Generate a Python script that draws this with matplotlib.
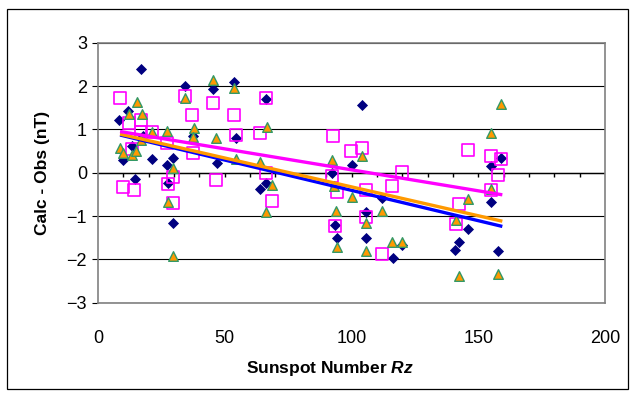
import matplotlib.pyplot as plt
from matplotlib.patches import Rectangle

# series (sunspot number, calc - obs)
dia_x = [8.4, 9.7, 12.0, 13.3, 14.6, 16.8, 17.6, 21.2, 27.1, 27.7, 29.5, 29.5, 34.3, 37.6,
         45.5, 46.8, 53.8, 54.4, 63.9, 66.1, 66.1, 92.4, 93.5, 94.2, 100.3, 104.3, 105.6,
         105.6, 112.2, 116.4, 120.0, 140.8, 142.4, 146.1, 154.9, 154.9, 157.9, 159.0]
dia_y = [1.22, 0.29, 1.43, 0.62, -0.15, 2.39, 0.85, 0.31, 0.18, -0.24, 0.35, -1.15, 2.01, 0.85,
         1.93, 0.23, 2.10, 0.79, -0.38, 1.69, -0.23, -0.01, -1.21, -1.50, 0.18, 1.56, -0.90,
         -1.50, -0.59, -1.98, -1.67, -1.78, -1.59, -1.30, 0.16, -0.67, -1.81, 0.33]

tri_x = [8.7, 9.7, 12.4, 13.5, 14.9, 15.3, 17.0, 17.5, 21.2, 27.1, 27.7, 29.5, 29.5, 34.3,
         38.0, 37.6, 45.5, 46.7, 53.8, 54.4, 63.9, 66.5, 66.1, 68.5, 92.4, 93.1, 93.8, 94.2,
         100.3, 104.3, 105.6, 105.6, 112.2, 116.1, 120.0, 141.1, 142.4, 146.1, 154.9, 154.9,
         157.9, 159.0]
tri_y = [0.56, 0.46, 1.35, 0.41, 0.50, 1.62, 0.75, 1.35, 0.93, 0.96, -0.67, 0.10, -1.92, 1.72,
         1.02, 0.82, 2.14, 0.79, 1.95, 0.31, 0.25, 1.06, -0.90, -0.28, 0.29, -0.30, -0.88, -1.71,
         -0.57, 0.39, -1.15, -1.80, -0.88, -1.59, -1.59, -1.09, -2.38, -0.61, 0.92, -0.38,
         -2.34, 1.58]

sq_x = [8.7, 9.7, 12.1, 13.3, 14.3, 16.8, 17.0, 21.2, 27.1, 27.7, 29.5, 29.5, 34.3, 37.2,
        37.6, 45.5, 46.5, 53.8, 54.4, 63.9, 66.1, 66.1, 68.8, 92.8, 92.4, 94.2, 93.5, 99.8,
        104.3, 105.6, 105.6, 111.9, 116.1, 119.8, 141.1, 142.4, 146.1, 154.9, 154.9, 157.9, 159.0]
sq_y = [1.73, -0.34, 1.14, 0.55, -0.41, 1.22, 0.95, 0.95, 0.69, -0.27, -0.09, -0.69, 1.77, 1.33,
        0.45, 1.60, -0.17, 1.33, 0.87, 0.91, 1.72, 0.00, -0.65, 0.85, -0.07, -0.44, -1.22, 0.49,
        0.56, -0.40, -1.02, -1.88, -0.31, 0.01, -1.18, -0.73, 0.52, 0.39, -0.40, -0.05, 0.31]

# trend lines as drawn in the reference (end values at first / last sunspot number)
trend_x = [8.7, 159.5]
trend_dia = [0.87, -1.24]
trend_tri = [0.89, -1.12]
trend_sq = [0.95, -0.51]

minor_x = list(range(10, 200, 10))

plt.rcParams['font.family'] = ['Liberation Sans', 'DejaVu Sans']
plt.rcParams['mathtext.fontset'] = 'custom'
plt.rcParams['mathtext.bfit'] = 'Liberation Sans:bold:italic'

fig = plt.figure(figsize=(6.35, 3.98), dpi=100)
ax = fig.add_axes([98 / 635, 1 - 302.7 / 398, 507 / 635, 260 / 398])

# outer chart border
fig.patches.append(Rectangle((7 / 635, 1 - 389 / 398), 621 / 635, 380 / 398,
                             transform=fig.transFigure, fill=False, ec='black', lw=0.9))

ax.scatter(dia_x, dia_y, marker='D', s=32, color='#000080', zorder=3, linewidths=0)
ax.scatter(sq_x, sq_y, marker='s', s=75, facecolors='none', edgecolors='#FF00FF',
           linewidths=1.2, zorder=3)
ax.scatter(tri_x, tri_y, marker='^', s=48, color='#FF9900', edgecolors='#339966',
           linewidths=1.0, zorder=4)

ax.plot(trend_x, trend_dia, color='#0000FF', lw=2.4, zorder=5, solid_capstyle='butt')
ax.plot(trend_x, trend_tri, color='#FF9900', lw=2.4, zorder=5, solid_capstyle='butt')
ax.plot(trend_x, trend_sq, color='#FF00FF', lw=2.4, zorder=5, solid_capstyle='butt')

ax.set_xlim(0, 200)
ax.set_ylim(-3, 3)
ax.set_yticks(range(-3, 4))
ax.set_xticks(range(0, 201, 50))
ax.grid(axis='y', color='black', lw=0.8)
ax.set_axisbelow(True)
for sp in ax.spines.values():
    sp.set_color('#808080')
    sp.set_linewidth(1.2)
ax.tick_params(axis='x', length=0, pad=20, labelsize=13)
ax.tick_params(axis='y', length=4, direction='out', color='black', labelsize=13, pad=4)

# x axis crosses at y = 0, tick marks every 10 hanging below it
ax.axhline(0, color='black', lw=1.0, zorder=1)
ax.vlines(minor_x, -0.11, 0, color='black', lw=1.0, zorder=2)

ax.set_ylabel('Calc - Obs (nT)', fontsize=12.5, fontweight='bold', labelpad=12)
ax.set_xlabel(r'Sunspot Number $\mathbfit{Rz}$', fontsize=12.5, fontweight='bold')
ax.xaxis.set_label_coords((330 - 98) / 507, (302.7 - 368) / 260)
ax.xaxis.label.set_va('center')

fig.savefig('out.png', dpi=100)
